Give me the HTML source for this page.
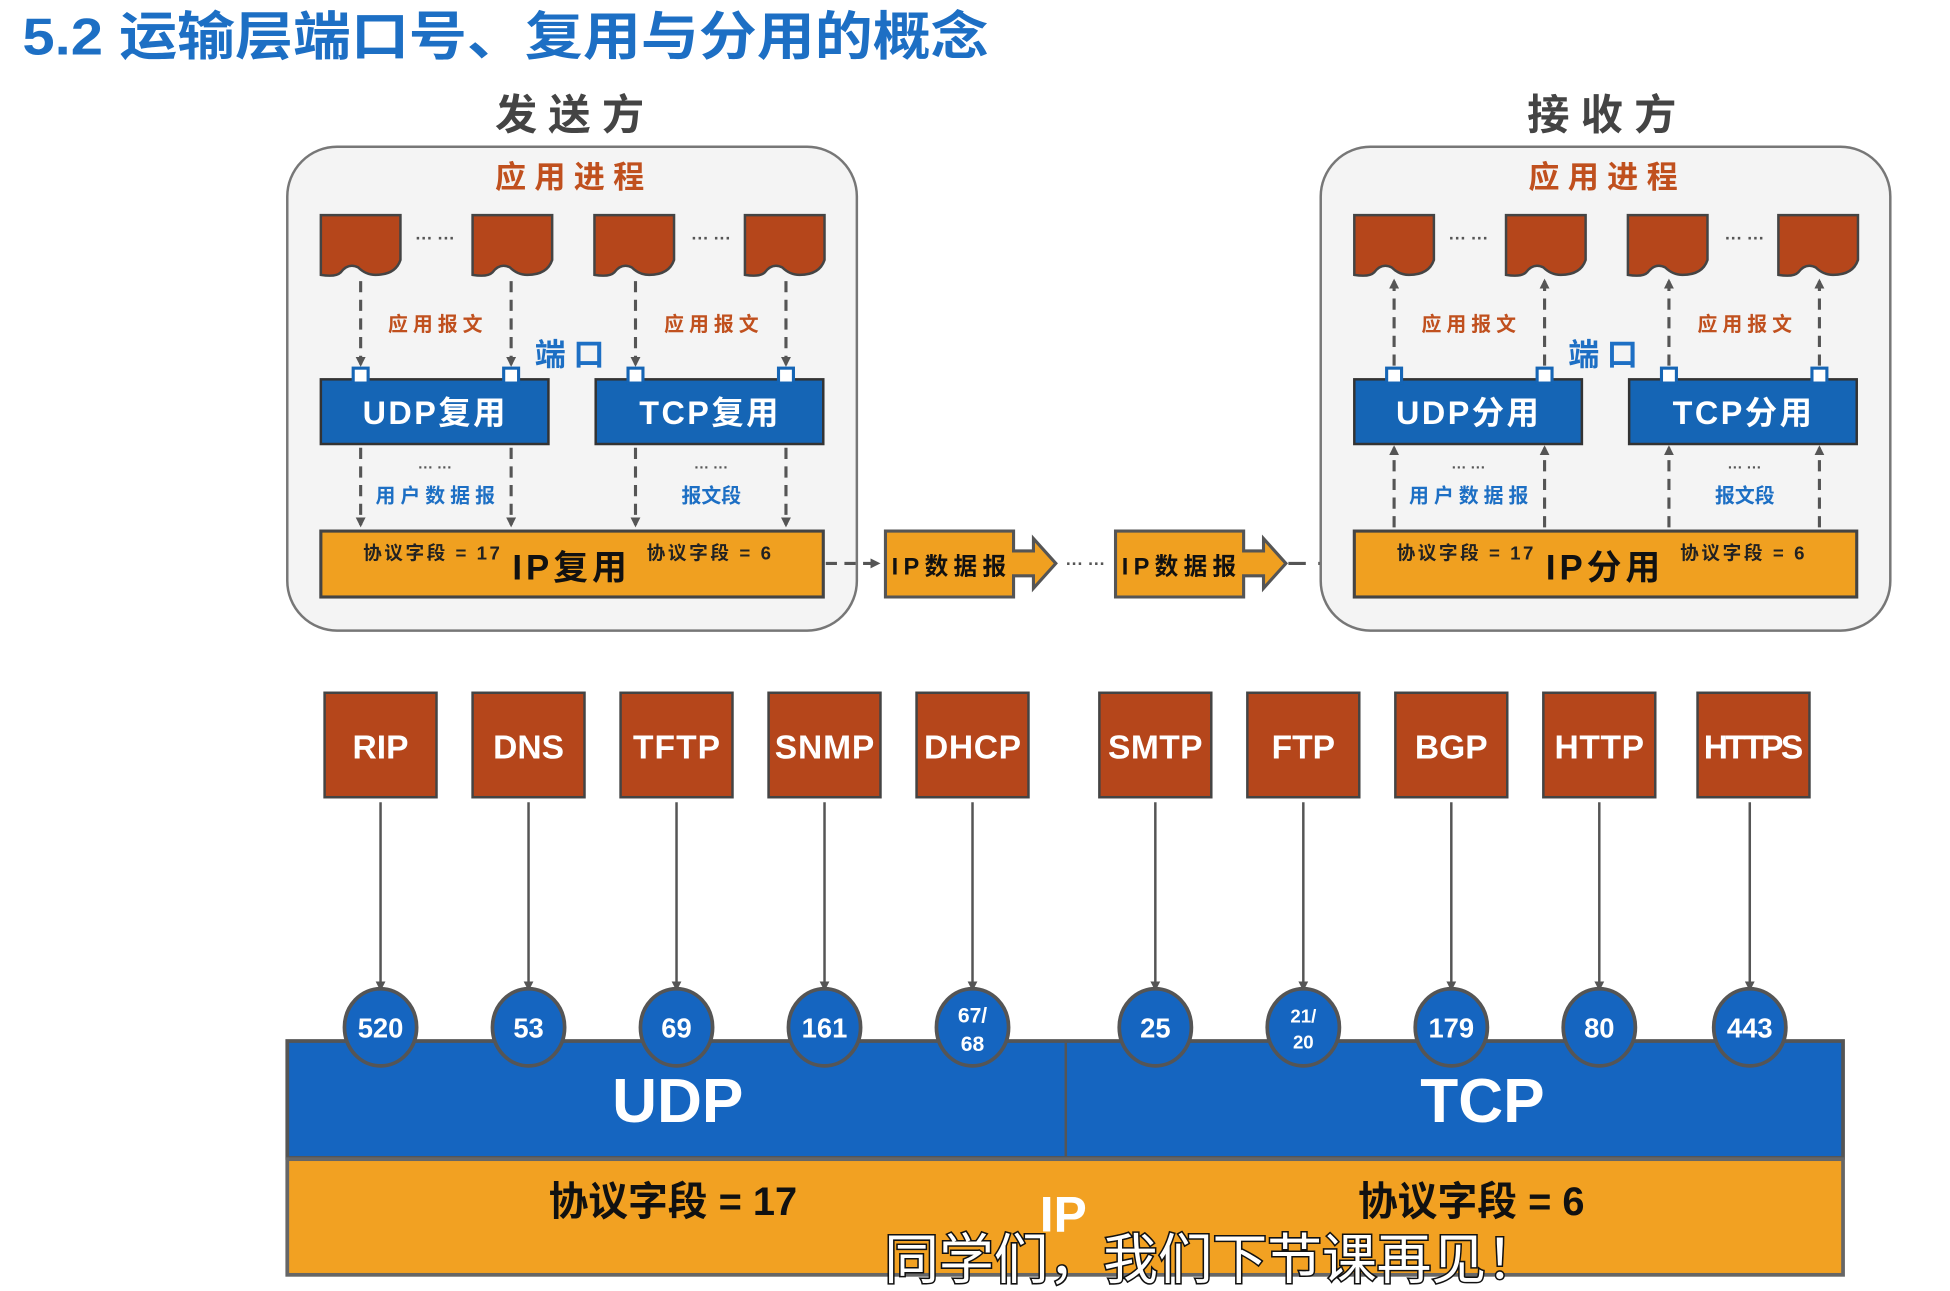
<!DOCTYPE html>
<html><head><meta charset="utf-8"><style>
html,body{margin:0;padding:0;background:#fff;width:1950px;height:1291px;overflow:hidden}
svg{display:block}
text{font-family:"Liberation Sans","Noto Sans CJK SC",sans-serif;font-weight:bold}
</style></head><body>
<svg width="1950" height="1291" viewBox="0 0 1568 1038" preserveAspectRatio="none" xmlns="http://www.w3.org/2000/svg">
<defs>
<marker id="ah" markerWidth="8" markerHeight="8" refX="6" refY="4" orient="auto" markerUnits="userSpaceOnUse"><path d="M0,0 L8,4 L0,8 z" fill="#555"/></marker>
<g id="doc"><path d="M0,0 h64 v36 q-4,12 -20,12 q-8,0 -14,-6 q-8,-4 -14,4 q-4,4 -16,2 z" fill="#b5461b" stroke="#444" stroke-width="2"/></g>
</defs>
<rect width="1568" height="1038" fill="#fff"/>
<text x="18" y="44" font-size="42" fill="#1d6fc4" textLength="777" lengthAdjust="spacingAndGlyphs">5.2 运输层端口号、复用与分用的概念</text>
<text x="458" y="104" font-size="34" fill="#444" text-anchor="middle" textLength="120">发送方</text>
<text x="1288" y="104" font-size="34" fill="#444" text-anchor="middle" textLength="120">接收方</text>

<rect x="231" y="118" width="458" height="389" rx="40" fill="#f4f4f4" stroke="#777" stroke-width="2"/>
<text x="458" y="151" font-size="25" fill="#c0501e" text-anchor="middle" textLength="120">应用进程</text>
<use href="#doc" x="258" y="173"/><use href="#doc" x="380" y="173"/><use href="#doc" x="478" y="173"/><use href="#doc" x="599" y="173"/>
<text x="350" y="196" font-size="14" fill="#555" text-anchor="middle">··· ···</text>
<text x="572" y="196" font-size="14" fill="#555" text-anchor="middle">··· ···</text>
<g stroke="#555" stroke-width="2.5" stroke-dasharray="9,6" marker-end="url(#ah)">
<line x1="290" y1="226" x2="290" y2="293"/><line x1="411" y1="226" x2="411" y2="293"/>
<line x1="511" y1="226" x2="511" y2="293"/><line x1="632" y1="226" x2="632" y2="293"/>
<line x1="290" y1="360" x2="290" y2="422"/><line x1="411" y1="360" x2="411" y2="422"/>
<line x1="511" y1="360" x2="511" y2="422"/><line x1="632" y1="360" x2="632" y2="422"/>
</g>
<text x="350" y="266" font-size="16" fill="#c0501e" text-anchor="middle" textLength="76">应用报文</text>
<text x="572" y="266" font-size="16" fill="#c0501e" text-anchor="middle" textLength="76">应用报文</text>
<text x="458" y="294" font-size="25" fill="#1d6fc4" text-anchor="middle" textLength="56">端口</text>
<rect x="258" y="305" width="183" height="52" fill="#1565b5" stroke="#333" stroke-width="2"/>
<rect x="479" y="305" width="183" height="52" fill="#1565b5" stroke="#333" stroke-width="2"/>
<text x="350" y="341" font-size="26" fill="#fff" text-anchor="middle" letter-spacing="2">UDP复用</text>
<text x="571" y="341" font-size="26" fill="#fff" text-anchor="middle" letter-spacing="2">TCP复用</text>
<g fill="#fff" stroke="#1565b5" stroke-width="2.5"><rect x="284" y="296" width="12" height="12"/><rect x="405" y="296" width="12" height="12"/><rect x="505" y="296" width="12" height="12"/><rect x="626" y="296" width="12" height="12"/></g>
<text x="350" y="380" font-size="12" fill="#555" text-anchor="middle">··· ···</text>
<text x="572" y="380" font-size="12" fill="#555" text-anchor="middle">··· ···</text>
<text x="350" y="404" font-size="16" fill="#1d6fc4" text-anchor="middle" textLength="96">用户数据报</text>
<text x="572" y="404" font-size="16" fill="#1d6fc4" text-anchor="middle">报文段</text>
<rect x="258" y="427" width="404" height="53" fill="#f0a020" stroke="#444" stroke-width="2.5"/>
<text x="347" y="450" font-size="15" fill="#222" text-anchor="middle" textLength="110">协议字段 = 17</text>
<text x="458" y="466" font-size="28" fill="#111" text-anchor="middle" textLength="92">IP复用</text>
<text x="570" y="450" font-size="15" fill="#222" text-anchor="middle" textLength="100">协议字段 = 6</text>

<line x1="664" y1="453" x2="706" y2="453" stroke="#555" stroke-width="2.5" stroke-dasharray="9,6" marker-end="url(#ah)"/>
<path d="M712,427 h103 v16 h16 v-10 l18,20 l-18,20 v-10 h-16 v17 h-103 z" fill="#f0a020" stroke="#555" stroke-width="2.5"/>
<text x="763" y="462" font-size="19" fill="#111" text-anchor="middle" textLength="92">IP数据报</text>
<text x="873" y="458" font-size="14" fill="#555" text-anchor="middle">··· ···</text>
<path d="M897,427 h103 v16 h16 v-10 l18,20 l-18,20 v-10 h-16 v17 h-103 z" fill="#f0a020" stroke="#555" stroke-width="2.5"/>
<text x="948" y="462" font-size="19" fill="#111" text-anchor="middle" textLength="92">IP数据报</text>
<line x1="1036" y1="453" x2="1080" y2="453" stroke="#555" stroke-width="2.5" stroke-dasharray="14,10" marker-end="url(#ah)"/>

<rect x="1062" y="118" width="458" height="389" rx="40" fill="#f4f4f4" stroke="#777" stroke-width="2"/>
<text x="1289" y="151" font-size="25" fill="#c0501e" text-anchor="middle" textLength="120">应用进程</text>
<use href="#doc" x="1089" y="173"/><use href="#doc" x="1211" y="173"/><use href="#doc" x="1309" y="173"/><use href="#doc" x="1430" y="173"/>
<text x="1181" y="196" font-size="14" fill="#555" text-anchor="middle">··· ···</text>
<text x="1403" y="196" font-size="14" fill="#555" text-anchor="middle">··· ···</text>
<g stroke="#555" stroke-width="2.5" stroke-dasharray="9,6" marker-end="url(#ah)">
<line x1="1121" y1="294" x2="1121" y2="226"/><line x1="1242" y1="294" x2="1242" y2="226"/>
<line x1="1342" y1="294" x2="1342" y2="226"/><line x1="1463" y1="294" x2="1463" y2="226"/>
<line x1="1121" y1="424" x2="1121" y2="360"/><line x1="1242" y1="424" x2="1242" y2="360"/>
<line x1="1342" y1="424" x2="1342" y2="360"/><line x1="1463" y1="424" x2="1463" y2="360"/>
</g>
<text x="1181" y="266" font-size="16" fill="#c0501e" text-anchor="middle" textLength="76">应用报文</text>
<text x="1403" y="266" font-size="16" fill="#c0501e" text-anchor="middle" textLength="76">应用报文</text>
<text x="1289" y="294" font-size="25" fill="#1d6fc4" text-anchor="middle" textLength="56">端口</text>
<rect x="1089" y="305" width="183" height="52" fill="#1565b5" stroke="#333" stroke-width="2"/>
<rect x="1310" y="305" width="183" height="52" fill="#1565b5" stroke="#333" stroke-width="2"/>
<text x="1181" y="341" font-size="26" fill="#fff" text-anchor="middle" letter-spacing="2">UDP分用</text>
<text x="1402" y="341" font-size="26" fill="#fff" text-anchor="middle" letter-spacing="2">TCP分用</text>
<g fill="#fff" stroke="#1565b5" stroke-width="2.5"><rect x="1115" y="296" width="12" height="12"/><rect x="1236" y="296" width="12" height="12"/><rect x="1336" y="296" width="12" height="12"/><rect x="1457" y="296" width="12" height="12"/></g>
<text x="1181" y="380" font-size="12" fill="#555" text-anchor="middle">··· ···</text>
<text x="1403" y="380" font-size="12" fill="#555" text-anchor="middle">··· ···</text>
<text x="1181" y="404" font-size="16" fill="#1d6fc4" text-anchor="middle" textLength="96">用户数据报</text>
<text x="1403" y="404" font-size="16" fill="#1d6fc4" text-anchor="middle">报文段</text>
<rect x="1089" y="427" width="404" height="53" fill="#f0a020" stroke="#444" stroke-width="2.5"/>
<text x="1178" y="450" font-size="15" fill="#222" text-anchor="middle" textLength="110">协议字段 = 17</text>
<text x="1289" y="466" font-size="28" fill="#111" text-anchor="middle" textLength="92">IP分用</text>
<text x="1401" y="450" font-size="15" fill="#222" text-anchor="middle" textLength="100">协议字段 = 6</text>

<rect x="231" y="837" width="1251" height="94" fill="#1565c0" stroke="#555" stroke-width="3"/>
<line x1="857" y1="837" x2="857" y2="931" stroke="#555" stroke-width="2"/>
<text x="545" y="902" font-size="50" fill="#fff" text-anchor="middle">UDP</text>
<text x="1192" y="902" font-size="50" fill="#fff" text-anchor="middle">TCP</text>
<rect x="231" y="932" width="1251" height="93" fill="#f2a122" stroke="#666" stroke-width="3"/>
<text x="541" y="977" font-size="32" fill="#111" text-anchor="middle">协议字段 = 17</text>
<text x="1183" y="977" font-size="32" fill="#111" text-anchor="middle">协议字段 = 6</text>
<text x="855" y="990" font-size="40" fill="#fff" text-anchor="middle">IP</text>

<g stroke="#555" stroke-width="2" marker-end="url(#ah)">
<line x1="306" y1="645" x2="306" y2="795"/><line x1="425" y1="645" x2="425" y2="795"/><line x1="544" y1="645" x2="544" y2="795"/><line x1="663" y1="645" x2="663" y2="795"/><line x1="782" y1="645" x2="782" y2="795"/>
<line x1="929" y1="645" x2="929" y2="795"/><line x1="1048" y1="645" x2="1048" y2="795"/><line x1="1167" y1="645" x2="1167" y2="795"/><line x1="1286" y1="645" x2="1286" y2="795"/><line x1="1407" y1="645" x2="1407" y2="795"/>
</g>
<g fill="#b5461b" stroke="#444" stroke-width="2">
<rect x="261" y="557" width="90" height="84"/><rect x="380" y="557" width="90" height="84"/><rect x="499" y="557" width="90" height="84"/><rect x="618" y="557" width="90" height="84"/><rect x="737" y="557" width="90" height="84"/>
<rect x="884" y="557" width="90" height="84"/><rect x="1003" y="557" width="90" height="84"/><rect x="1122" y="557" width="90" height="84"/><rect x="1241" y="557" width="90" height="84"/><rect x="1365" y="557" width="90" height="84"/>
</g>
<g fill="#fff" text-anchor="middle" font-size="27">
<text x="306" y="610">RIP</text><text x="425" y="610">DNS</text><text x="544" y="610" textLength="70">TFTP</text><text x="663" y="610" textLength="80">SNMP</text><text x="782" y="610" textLength="78">DHCP</text>
<text x="929" y="610" textLength="76">SMTP</text><text x="1048" y="610">FTP</text><text x="1167" y="610">BGP</text><text x="1286" y="610" textLength="72">HTTP</text><text x="1410" y="610" textLength="80">HTTPS</text>
</g>
<g fill="#1565c0" stroke="#555" stroke-width="3">
<ellipse cx="306" cy="826" rx="29" ry="31"/><ellipse cx="425" cy="826" rx="29" ry="31"/><ellipse cx="544" cy="826" rx="29" ry="31"/><ellipse cx="663" cy="826" rx="29" ry="31"/><ellipse cx="782" cy="826" rx="29" ry="31"/>
<ellipse cx="929" cy="826" rx="29" ry="31"/><ellipse cx="1048" cy="826" rx="29" ry="31"/><ellipse cx="1167" cy="826" rx="29" ry="31"/><ellipse cx="1286" cy="826" rx="29" ry="31"/><ellipse cx="1407" cy="826" rx="29" ry="31"/>
</g>
<g fill="#fff" text-anchor="middle" font-size="22">
<text x="306" y="834">520</text><text x="425" y="834">53</text><text x="544" y="834">69</text><text x="663" y="834">161</text>
<text x="782" y="822" font-size="17">67/</text><text x="782" y="845" font-size="17">68</text>
<text x="929" y="834">25</text>
<text x="1048" y="822" font-size="15">21/</text><text x="1048" y="843" font-size="15">20</text>
<text x="1167" y="834">179</text><text x="1286" y="834">80</text><text x="1407" y="834">443</text>
</g>

<text x="975" y="1028" font-size="44" fill="#fff" stroke="#111" stroke-width="2.5" paint-order="stroke" text-anchor="middle" style="font-weight:normal">同学们，我们下节课再见！</text>
</svg>
</body></html>
